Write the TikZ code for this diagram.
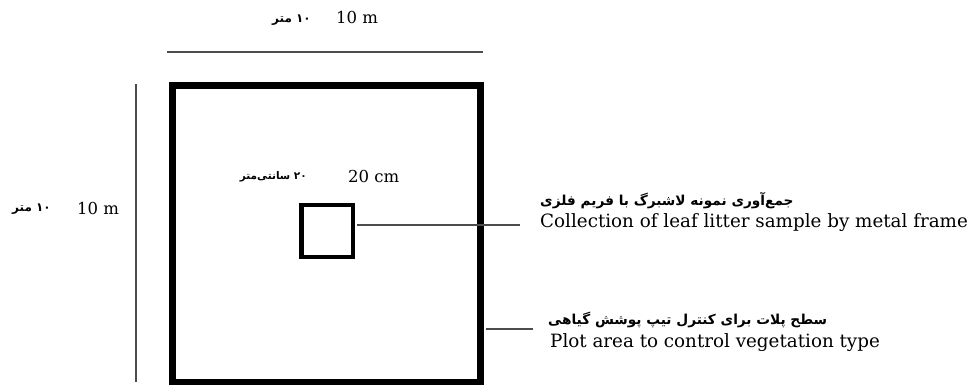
\documentclass[tikz,border=0pt]{standalone}
\usepackage{fontspec}
\setmainfont{DejaVu Serif}
\newfontfamily\fa[Script=Arabic]{DejaVu Sans}
\TeXXeTstate=1
\begin{document}
\begin{tikzpicture}[x=1pt,y=-1pt,
  thinline/.style={line width=1.2pt,black!70},
  dimtxt/.style={inner sep=0pt,font=\fontsize{16.5}{18}\selectfont},
  captxt/.style={inner sep=0pt,font=\fontsize{18.3}{20}\selectfont},
  fatxt/.style={inner sep=0pt,font=\fa\bfseries\fontsize{12}{14}\selectfont},
  fasmall/.style={inner sep=0pt,font=\fa\bfseries\fontsize{10.5}{13}\selectfont},
  facap/.style={inner sep=0pt,font=\fa\bfseries\fontsize{13.7}{16}\selectfont}]
\useasboundingbox (0,0) rectangle (971,385);
% squares
\node[draw,line width=7pt,minimum width=308pt,minimum height=297pt,inner sep=0pt] (plot) at (326.5,234) {};
\node[draw,line width=4.5pt,minimum width=51.5pt,minimum height=52pt,inner sep=0pt] (frame) at (327.25,231) {};
% dimension lines
\coordinate (dA) at (167,52);
\coordinate (dB) at (483,52);
\coordinate (dC) at (136,84);
\coordinate (dD) at (136,382);
\draw[thinline] (dA) -- (dB);
\draw[thinline] (dC) -- (dD);
% leader lines
\coordinate (c1) at (520,225);
\coordinate (c2) at (533,329);
\draw[thinline] ([xshift=2pt,yshift=6pt]frame.east) -- (c1);
\draw[thinline] ([xshift=2pt]plot.east |- c2) -- (c2);
% labels
\node[dimtxt,anchor=base west] (t10) at (336,24) {10 m};
\node[fatxt,anchor=east] (t10fa) at (311,20) {\beginR ۱۰ متر\endR};
\node[dimtxt,anchor=base west] (l10) at (77,214) {10 m};
\node[fatxt,anchor=east] (l10fa) at (51,209) {\beginR ۱۰ متر\endR};
\node[dimtxt,anchor=base west] (c20) at (348,182) {20 cm};
\node[fasmall,anchor=east] (c20fa) at (307,177) {\beginR ۲۰ سانتی‌متر\endR};
\node[facap,anchor=west] (cap1fa) at (540,201) {\beginR جمع‌آوری نمونه لاشبرگ با فریم فلزی\endR};
\node[captxt,anchor=base west] (cap1) at (540,227) {Collection of leaf litter sample by metal frame};
\node[facap,anchor=west] (cap2fa) at (548,320) {\beginR سطح پلات برای کنترل تیپ پوشش گیاهی\endR};
\node[captxt,anchor=base west] (cap2) at (550,347) {Plot area to control vegetation type};
\end{tikzpicture}
\end{document}
